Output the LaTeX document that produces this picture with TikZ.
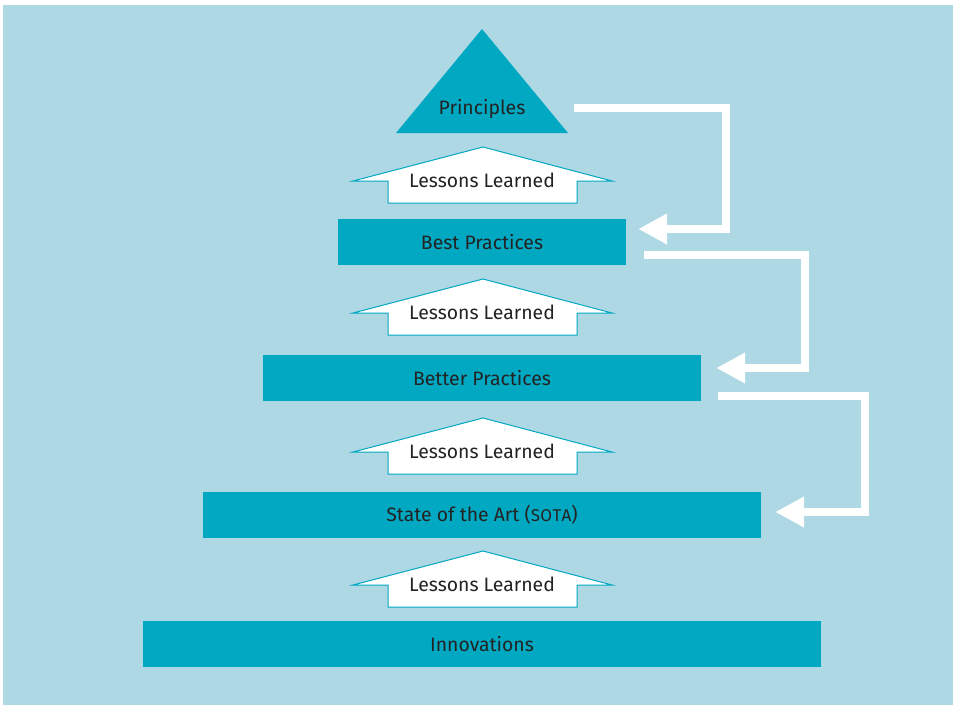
\documentclass[tikz,border=0pt]{standalone}
\usepackage{fontspec}
\setmainfont{Fira Sans}
\usetikzlibrary{arrows.meta,calc}
\definecolor{bgblue}{RGB}{173,216,228}
\definecolor{teal}{RGB}{0,168,194}
\definecolor{txt}{RGB}{35,35,35}
\newcommand\lessonarrow[2]{%
  \filldraw[lessonstyle] (353,#2+1) -- (483,#2-33) -- (612,#2+1) -- (577,#2+1) -- (577,#2+23) -- (388,#2+23) -- (388,#2+1) -- cycle;
  \node[label] (#1) at (482,#2) {Lessons Learned};}
\begin{document}
\begin{tikzpicture}[x=1pt,y=-1pt,
  label/.style={text=txt,font=\fontsize{19.4}{21}\selectfont,inner sep=0pt},
  levelbox/.style={fill=teal,draw=none,minimum height=46pt,inner sep=0pt,text=txt,font=\fontsize{19.4}{21}\selectfont},
  lessonstyle/.style={fill=white,draw=teal,line width=1pt},
  feedback/.style={draw=white,line width=8pt,-{Triangle[length=29pt,width=29pt]}}]
\useasboundingbox (0,0) rectangle (953,705);
\fill[bgblue] (3,5) rectangle (953,705);
% apex
\fill[teal] (396,133) -- (482,29) -- (568,133) -- cycle;
\node[label] (principles) at (482,109) {Principles};
% levels
\node[levelbox,minimum width=288pt] (best) at (482,242) {Best Practices};
\node[levelbox,minimum width=438pt] (better) at (482,378) {Better Practices};
\node[levelbox,minimum width=558pt] (sota) at (482,515) {State of the Art ({\fontsize{17}{18}\selectfont S\kern0.3pt O\kern0.3pt T\kern0.3pt A})};
\node[levelbox,minimum width=678pt] (innov) at (482,644) {Innovations};
% lessons learned arrows
\lessonarrow{ll1}{180}
\lessonarrow{ll2}{312}
\lessonarrow{ll3}{451}
\lessonarrow{ll4}{584}
% feedback connectors
\coordinate (s1) at (574,108);
\coordinate (e1) at ($(best.east)+(12,-13)$);
\coordinate (s2) at ($(best.east)+(18,13)$);
\coordinate (e2) at ($(better.east)+(15,-10)$);
\coordinate (s3) at ($(better.east)+(17,18)$);
\coordinate (e3) at ($(sota.east)+(14,-3)$);
\draw[feedback] (s1) -- (726,108) |- (e1);
\draw[feedback] (s2) -- (805,255) |- (e2);
\draw[feedback] (s3) -- (865,396) |- (e3);
\end{tikzpicture}
\end{document}
